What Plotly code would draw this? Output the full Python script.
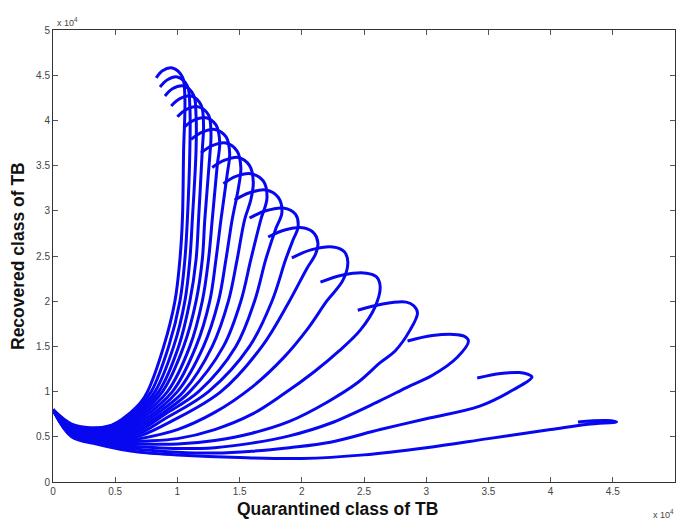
import plotly.graph_objects as go

# Values in units of 10^4 (as shown by the axis multipliers)
q01 = [0, 0.15, 0.30, 0.45, 0.55, 0.70, 0.76, 0.89, 0.98, 1.02, 1.04, 1.05, 1.06, 1.04, 0.96, 0.88, 0.83]
r01 = [0.80, 0.64, 0.60, 0.62, 0.69, 0.87, 1.00, 1.50, 2.00, 2.46, 2.90, 3.67, 4.25, 4.48, 4.58, 4.55, 4.47]
q02 = [0, 0.15, 0.35, 0.55, 0.70, 0.79, 0.93, 1.02, 1.06, 1.08, 1.10, 1.10, 1.08, 1.00, 0.92, 0.86]
r02 = [0.80, 0.632, 0.59, 0.672, 0.84, 1.00, 1.50, 2.00, 2.46, 2.90, 3.67, 4.15, 4.38, 4.48, 4.45, 4.37]
q03 = [0, 0.15, 0.35, 0.55, 0.70, 0.82, 0.97, 1.06, 1.10, 1.12, 1.15, 1.15, 1.13, 1.05, 0.96, 0.90]
r03 = [0.80, 0.624, 0.58, 0.653, 0.81, 1.00, 1.50, 2.00, 2.46, 2.90, 3.67, 4.05, 4.28, 4.38, 4.35, 4.27]
q04 = [0, 0.15, 0.35, 0.55, 0.70, 0.85, 1.01, 1.10, 1.15, 1.17, 1.20, 1.21, 1.19, 1.11, 1.02, 0.95]
r04 = [0.80, 0.617, 0.57, 0.635, 0.78, 1.00, 1.50, 2.00, 2.46, 2.90, 3.67, 3.95, 4.17, 4.27, 4.24, 4.16]
q05 = [0, 0.15, 0.35, 0.55, 0.70, 0.88, 1.05, 1.15, 1.20, 1.22, 1.26, 1.27, 1.25, 1.17, 1.07, 1.00]
r05 = [0.80, 0.609, 0.56, 0.617, 0.75, 1.00, 1.50, 2.00, 2.46, 2.90, 3.60, 3.85, 4.06, 4.15, 4.12, 4.04]
q06 = [0, 0.15, 0.35, 0.55, 0.70, 0.92, 1.10, 1.20, 1.25, 1.28, 1.32, 1.34, 1.31, 1.23, 1.13, 1.05]
r06 = [0.80, 0.601, 0.55, 0.598, 0.72, 1.00, 1.50, 2.00, 2.46, 2.90, 3.50, 3.76, 3.95, 4.03, 4.00, 3.92]
q07 = [0, 0.15, 0.35, 0.55, 0.70, 0.96, 1.15, 1.26, 1.31, 1.35, 1.40, 1.42, 1.39, 1.30, 1.20, 1.11]
r07 = [0.80, 0.593, 0.54, 0.58, 0.69, 1.00, 1.50, 2.00, 2.46, 2.90, 3.40, 3.64, 3.82, 3.90, 3.87, 3.79]
q08 = [0, 0.15, 0.35, 0.55, 0.70, 1.00, 1.21, 1.33, 1.39, 1.44, 1.49, 1.51, 1.48, 1.39, 1.28, 1.19]
r08 = [0.80, 0.585, 0.53, 0.562, 0.66, 1.00, 1.50, 2.00, 2.46, 2.90, 3.25, 3.48, 3.66, 3.75, 3.72, 3.64]
q09 = [0, 0.15, 0.35, 0.55, 0.70, 0.88, 1.05, 1.28, 1.41, 1.48, 1.54, 1.59, 1.61, 1.58, 1.49, 1.38, 1.28]
r09 = [0.80, 0.578, 0.52, 0.543, 0.63, 0.80, 1.00, 1.50, 2.00, 2.46, 2.90, 3.12, 3.32, 3.50, 3.59, 3.56, 3.48]
q10 = [0, 0.15, 0.35, 0.55, 0.70, 0.90, 1.10, 1.37, 1.51, 1.59, 1.67, 1.72, 1.69, 1.59, 1.47, 1.37]
r10 = [0.80, 0.57, 0.51, 0.525, 0.60, 0.78, 1.00, 1.50, 2.00, 2.46, 2.90, 3.14, 3.33, 3.41, 3.38, 3.30]
q11 = [0, 0.15, 0.35, 0.55, 0.70, 0.90, 1.17, 1.47, 1.62, 1.71, 1.79, 1.84, 1.81, 1.71, 1.58, 1.46]
r11 = [0.80, 0.562, 0.50, 0.507, 0.57, 0.75, 1.00, 1.50, 2.00, 2.46, 2.80, 2.98, 3.15, 3.23, 3.20, 3.12]
q12 = [0, 0.15, 0.35, 0.55, 0.70, 0.90, 1.25, 1.58, 1.76, 1.87, 1.93, 1.97, 1.95, 1.85, 1.71, 1.58]
r12 = [0.80, 0.554, 0.49, 0.488, 0.54, 0.70, 1.00, 1.50, 2.00, 2.46, 2.68, 2.82, 2.96, 3.03, 3.00, 2.92]
q13 = [0, 0.15, 0.35, 0.55, 0.70, 0.95, 1.35, 1.68, 1.90, 2.04, 2.11, 2.13, 2.10, 2.02, 1.87, 1.73]
r13 = [0.80, 0.546, 0.48, 0.47, 0.51, 0.67, 1.00, 1.50, 2.00, 2.36, 2.52, 2.64, 2.75, 2.81, 2.79, 2.71]
q14 = [0, 0.15, 0.35, 0.55, 0.70, 1.00, 1.30, 1.60, 1.85, 2.05, 2.20, 2.33, 2.37, 2.34, 2.25, 2.08, 1.92]
r14 = [0.80, 0.538, 0.47, 0.452, 0.48, 0.58, 0.77, 1.05, 1.37, 1.70, 2.00, 2.23, 2.43, 2.55, 2.60, 2.57, 2.48]
q15 = [0, 0.15, 0.35, 0.55, 0.70, 1.00, 1.30, 1.60, 1.85, 2.10, 2.30, 2.47, 2.59, 2.63, 2.60, 2.52, 2.33, 2.15]
r15 = [0.80, 0.531, 0.46, 0.433, 0.45, 0.48, 0.58, 0.75, 0.97, 1.22, 1.45, 1.68, 1.94, 2.16, 2.27, 2.31, 2.29, 2.21]
q16 = [0, 0.15, 0.35, 0.55, 0.70, 1.00, 1.30, 1.60, 1.90, 2.20, 2.45, 2.63, 2.75, 2.87, 2.93, 2.90, 2.84, 2.65, 2.45]
r16 = [0.80, 0.523, 0.45, 0.415, 0.42, 0.42, 0.46, 0.54, 0.67, 0.88, 1.10, 1.32, 1.45, 1.68, 1.87, 1.95, 1.99, 1.97, 1.90]
q17 = [0, 0.15, 0.35, 0.55, 0.70, 1.00, 1.30, 1.60, 1.90, 2.23, 2.63, 2.85, 3.05, 3.25, 3.34, 3.31, 3.25, 3.05, 2.85]
r17 = [0.80, 0.515, 0.44, 0.397, 0.39, 0.37, 0.38, 0.43, 0.51, 0.65, 0.90, 1.05, 1.18, 1.38, 1.56, 1.61, 1.63, 1.62, 1.56]
q18 = [0, 0.15, 0.35, 0.55, 0.70, 1.00, 1.30, 1.60, 1.90, 2.23, 2.63, 3.00, 3.43, 3.70, 3.85, 3.82, 3.75, 3.60, 3.41]
r18 = [0.80, 0.507, 0.43, 0.378, 0.36, 0.33, 0.32, 0.34, 0.38, 0.44, 0.58, 0.70, 0.84, 1.02, 1.16, 1.19, 1.21, 1.20, 1.15]
q19 = [0, 0.15, 0.35, 0.55, 0.70, 1.00, 1.50, 2.00, 2.50, 3.00, 3.50, 4.00, 4.30, 4.53, 4.45, 4.22]
r19 = [0.80, 0.50, 0.42, 0.36, 0.33, 0.30, 0.27, 0.26, 0.30, 0.38, 0.48, 0.58, 0.64, 0.665, 0.68, 0.665]

tick_vals = [0, 0.5, 1, 1.5, 2, 2.5, 3, 3.5, 4, 4.5, 5]
tick_text = ["0", "0.5", "1", "1.5", "2", "2.5", "3", "3.5", "4", "4.5", "5"]

curves = [
    (q01, r01), (q02, r02), (q03, r03), (q04, r04), (q05, r05),
    (q06, r06), (q07, r07), (q08, r08), (q09, r09), (q10, r10),
    (q11, r11), (q12, r12), (q13, r13), (q14, r14), (q15, r15),
    (q16, r16), (q17, r17), (q18, r18), (q19, r19),
]

fig = go.Figure()
for q, r in curves:
    fig.add_trace(go.Scatter(
        x=q, y=r, mode="lines",
        line=dict(color="rgb(8,8,240)", width=3, shape="spline", smoothing=1.0),
        showlegend=False, hoverinfo="skip",
    ))

tick_font = dict(family="Liberation Sans Narrow, Arial Narrow, Liberation Sans, Arial, sans-serif",
                 size=10, color="#444")
axis_common = dict(
    range=[0, 5], tickvals=tick_vals, ticktext=tick_text,
    ticks="inside", ticklen=5, tickcolor="#555", tickwidth=1,
    showline=True, linecolor="#333", linewidth=1, mirror="ticks",
    showgrid=False, zeroline=False, tickfont=tick_font, fixedrange=True,
)
label_font = dict(family="Liberation Sans, Arial, sans-serif", size=17.5, color="#111")
fig.update_layout(
    width=676, height=521,
    margin=dict(l=53, r=1, t=30, b=39),
    paper_bgcolor="white", plot_bgcolor="white",
    xaxis=axis_common,
    yaxis=axis_common,
    annotations=[
        dict(text="<b>Quarantined class of TB</b>", xref="paper", yref="paper",
             x=0.458, y=0, yshift=-27, xanchor="center", yanchor="middle",
             showarrow=False, font=label_font),
        dict(text="<b>Recovered class of TB</b>", xref="paper", yref="paper",
             x=0, xshift=-35, y=0.5, xanchor="center", yanchor="middle",
             textangle=-90, showarrow=False, font=label_font),
        dict(text="x 10<sup>4</sup>", xref="paper", yref="paper",
             x=0, y=1, xshift=2, yshift=0, xanchor="left", yanchor="bottom",
             showarrow=False, font=dict(tick_font, size=9)),
        dict(text="x 10<sup>4</sup>", xref="paper", yref="paper",
             x=1, y=0, xshift=1, yshift=-24, xanchor="right", yanchor="top",
             showarrow=False, font=dict(tick_font, size=9)),
    ],
)

fig.write_html(
    "out.html",
    config={"displayModeBar": False},
    post_script="document.body.style.margin='0px';document.body.style.overflow='hidden';",
)
